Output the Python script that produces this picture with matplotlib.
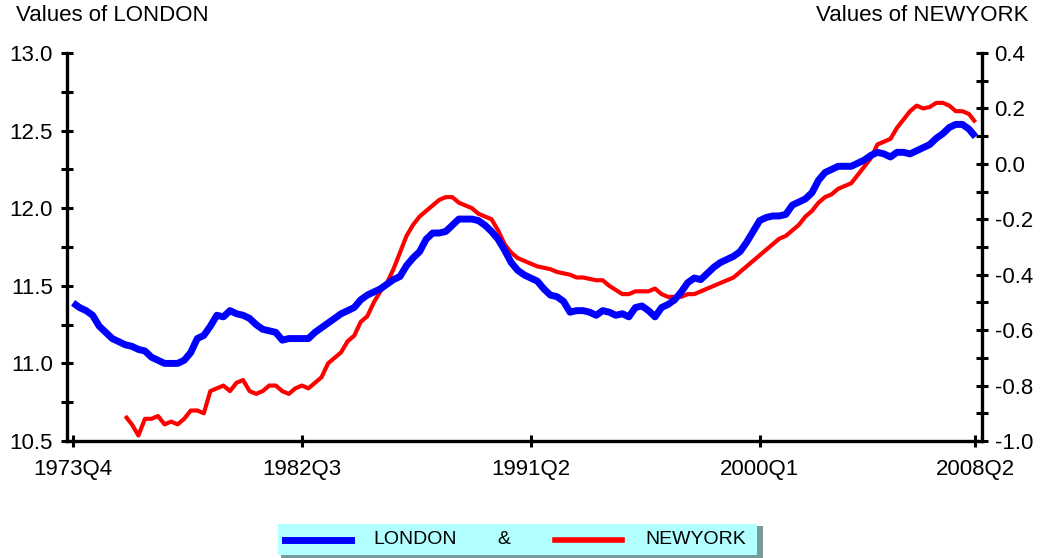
import numpy as np
import matplotlib
matplotlib.use("Agg")
import matplotlib.pyplot as plt
from matplotlib.patches import Rectangle
from matplotlib.lines import Line2D

plt.rcParams['font.family'] = ['Liberation Sans', 'DejaVu Sans']
plt.rcParams['axes.unicode_minus'] = False

# quarters 1973Q4 .. 2008Q2
quarters = ["1973Q4"] + [f"{y}Q{q}" for y in range(1974, 2008) for q in range(1, 5)] + ["2008Q1", "2008Q2"]
tick_labels = ["1973Q4", "1982Q3", "1991Q2", "2000Q1", "2008Q2"]

london = [
    11.39, 11.36, 11.34, 11.31, 11.24, 11.20, 11.16, 11.14, 11.12, 11.11,
    11.09, 11.08, 11.04, 11.02, 11.00, 11.00, 11.00, 11.02, 11.07, 11.16,
    11.18, 11.24, 11.31, 11.30, 11.34, 11.32, 11.31, 11.29, 11.25, 11.22,
    11.21, 11.20, 11.15, 11.16, 11.16, 11.16, 11.16, 11.20, 11.23, 11.26,
    11.29, 11.32, 11.34, 11.36, 11.41, 11.44, 11.46, 11.48, 11.51, 11.54,
    11.56, 11.63, 11.68, 11.72, 11.80, 11.84, 11.84, 11.85, 11.89, 11.93,
    11.93, 11.93, 11.92, 11.89, 11.85, 11.80, 11.73, 11.65, 11.60, 11.57,
    11.55, 11.53, 11.48, 11.44, 11.43, 11.40, 11.33, 11.34, 11.34, 11.33,
    11.31, 11.34, 11.33, 11.31, 11.32, 11.30, 11.36, 11.37, 11.34, 11.30,
    11.36, 11.38, 11.41, 11.46, 11.52, 11.55, 11.54, 11.58, 11.62, 11.65,
    11.67, 11.69, 11.72, 11.78, 11.85, 11.92, 11.94, 11.95, 11.95, 11.96,
    12.02, 12.04, 12.06, 12.10, 12.18, 12.23, 12.25, 12.27, 12.27, 12.27,
    12.29, 12.31, 12.34, 12.36, 12.35, 12.33, 12.36, 12.36, 12.35, 12.37,
    12.39, 12.41, 12.45, 12.48, 12.52, 12.54, 12.54, 12.51, 12.46,
]

# New York starts in 1975Q4
ny_start = "1975Q4"
newyork = [
    -0.91, -0.94,
    -0.98, -0.92, -0.92, -0.91, -0.94, -0.93, -0.94, -0.92, -0.89, -0.89,
    -0.90, -0.82, -0.81, -0.80, -0.82, -0.79, -0.78, -0.82, -0.83, -0.82,
    -0.80, -0.80, -0.82, -0.83, -0.81, -0.80, -0.81, -0.79, -0.77, -0.72,
    -0.70, -0.68, -0.64, -0.62, -0.57, -0.55, -0.50, -0.46, -0.43, -0.38,
    -0.32, -0.26, -0.22, -0.19, -0.17, -0.15, -0.13, -0.12, -0.12, -0.14,
    -0.15, -0.16, -0.18, -0.19, -0.20, -0.24, -0.29, -0.32, -0.34, -0.35,
    -0.36, -0.37, -0.375, -0.38, -0.39, -0.395, -0.40, -0.41, -0.41, -0.415,
    -0.42, -0.42, -0.44, -0.455, -0.47, -0.47, -0.46, -0.46, -0.46, -0.45,
    -0.47, -0.48, -0.48, -0.48, -0.47, -0.47, -0.46, -0.45, -0.44, -0.43,
    -0.42, -0.41, -0.39, -0.37, -0.35, -0.33, -0.31, -0.29, -0.27, -0.26,
    -0.24, -0.22, -0.19, -0.17, -0.14, -0.12, -0.11, -0.09, -0.08, -0.07,
    -0.04, -0.01, 0.02, 0.07, 0.08, 0.09, 0.13, 0.16, 0.19, 0.21,
    0.20, 0.205, 0.22, 0.22, 0.21, 0.19, 0.19, 0.18, 0.15,
]

left_ticks = [10.5, 11.0, 11.5, 12.0, 12.5, 13.0]
right_ticks = [-1.0, -0.8, -0.6, -0.4, -0.2, 0.0, 0.2, 0.4]

x = np.arange(len(quarters))
x_ny = x[quarters.index(ny_start):]

W, H = 1041, 558
fig = plt.figure(figsize=(W / 100, H / 100), dpi=100)
ax = fig.add_axes([67 / W, 1 - 441 / H, (982 - 67) / W, (441 - 53) / H])
ax2 = ax.twinx()

ax.plot(x, london, color='#0000ff', lw=5, solid_capstyle='butt', zorder=3)
ax2.plot(x_ny, newyork, color='#ff0000', lw=3, solid_capstyle='butt', zorder=2)
ax.set_zorder(ax2.get_zorder() + 1)
ax.patch.set_visible(False)

ax.set_xlim(-0.92, 139)
ax.set_ylim(10.5, 13.0)
ax2.set_ylim(-1.0, 0.4)

ax.set_xticks([quarters.index(t) for t in tick_labels])
ax.set_xticklabels(tick_labels)
ax.set_yticks(left_ticks)
ax.set_yticks([v + 0.25 for v in left_ticks[:-1]], minor=True)
ax.set_yticklabels([f"{v:.1f}" for v in left_ticks])
ax2.set_yticks(right_ticks)
ax2.set_yticks([round(v + 0.1, 2) for v in right_ticks[:-1]], minor=True)
ax2.set_yticklabels([f"{v:.1f}" for v in right_ticks])

for a in (ax, ax2):
    for s in a.spines.values():
        s.set_visible(False)
    a.tick_params(which='both', direction='inout', width=2.2, length=8,
                  labelsize=16, colors='black')

ax.spines['left'].set_visible(True)
ax.spines['bottom'].set_visible(True)
ax.spines['left'].set_linewidth(2.4)
ax.spines['bottom'].set_linewidth(2.4)
ax2.spines['right'].set_visible(True)
ax2.spines['right'].set_linewidth(2.4)
ax.tick_params(axis='y', pad=6)
ax.tick_params(axis='x', pad=9)
ax2.tick_params(axis='y', pad=5)

fig.text(16 / W, 1 - 5 / H, "Values of LONDON", fontsize=16, ha='left', va='top')
fig.text(1028 / W, 1 - 5 / H, "Values of NEWYORK", fontsize=16, ha='right', va='top')

# legend box
fig.add_artist(Rectangle((281 / W, 1 - 558 / H), (760 - 278) / W, 32 / H,
                         transform=fig.transFigure, facecolor='#7a9a9a', edgecolor='none'))
fig.add_artist(Rectangle((278 / W, 1 - 555 / H), (757 - 278) / W, 31 / H,
                         transform=fig.transFigure, facecolor='#b2ffff', edgecolor='none'))
ly = 1 - 540 / H
fig.add_artist(Line2D([285 / W, 351 / W], [ly, ly], transform=fig.transFigure, color='#0000ff', lw=5))
fig.add_artist(Line2D([555 / W, 622 / W], [ly, ly], transform=fig.transFigure, color='#ff0000', lw=4))
fig.text(373 / W, ly, "LONDON", fontsize=14, ha='left', va='center')
fig.text(497 / W, ly, "&", fontsize=14, ha='left', va='center')
fig.text(645 / W, ly, "NEWYORK", fontsize=14, ha='left', va='center')

fig.savefig("out.png", dpi=100)
